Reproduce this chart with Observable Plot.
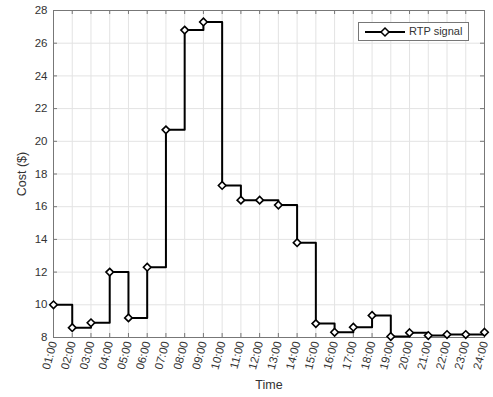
<!DOCTYPE html>
<html>
<head>
<meta charset="utf-8">
<script src="https://cdn.jsdelivr.net/npm/d3@7"></script>
<script src="https://cdn.jsdelivr.net/npm/@observablehq/plot@0.6"></script>
<style>
  html, body { margin: 0; padding: 0; background: #fff; }
  #wrap { position: relative; width: 493px; height: 397px; font-family: "Liberation Sans", Arial, sans-serif; }
  #legend { position: absolute; left: 358px; top: 22px; width: 111px; height: 19px; border: 1px solid #777; background: #fff; box-sizing: border-box; font-size: 11px; color: #333; }
  #legend svg { position: absolute; left: 4px; top: 2px; }
  #legend span { position: absolute; left: 50px; top: 2px; }
</style>
</head>
<body>
<div id="wrap"></div>
<script>
const hours = [1,2,3,4,5,6,7,8,9,10,11,12,13,14,15,16,17,18,19,20,21,22,23,24];
const timeLabels = ["01:00","02:00","03:00","04:00","05:00","06:00","07:00","08:00","09:00","10:00","11:00","12:00",
  "13:00","14:00","15:00","16:00","17:00","18:00","19:00","20:00","21:00","22:00","23:00","24:00"];
const cost = [10.0, 8.6, 8.9, 12.0, 9.2, 12.3, 20.7, 26.8, 27.3, 17.3, 16.4, 16.4,
  16.1, 13.8, 8.85, 8.32, 8.63, 9.35, 8.06, 8.29, 8.12, 8.18, 8.18, 8.32];
const yTicks = [8,10,12,14,16,18,20,22,24,26,28];
const seriesName = "RTP signal";

const data = hours.map((h, i) => ({hour: h, cost: cost[i]}));
const W = 493, H = 397, mL = 53, mR = 9, mT = 10, mB = 60;
const pw = W - mL - mR, ph = H - mT - mB;

const chart = Plot.plot({
  width: W, height: H,
  marginLeft: mL, marginRight: mR, marginTop: mT, marginBottom: mB,
  style: {fontFamily: "'Liberation Sans', Arial, sans-serif", fontSize: "11px", color: "#333", background: "#fff"},
  x: {type: "linear", domain: [1, 24]},
  y: {domain: [8, 28]},
  marks: [
    Plot.gridX(hours, {stroke: "#e3e3e3", strokeOpacity: 1}),
    Plot.gridY(yTicks, {stroke: "#e3e3e3", strokeOpacity: 1}),
    Plot.ruleY(yTicks, {stroke: "#777", insetRight: pw - 4}),
    Plot.ruleY(yTicks, {stroke: "#777", insetLeft: pw - 4}),
    Plot.ruleX(hours, {stroke: "#777", insetTop: ph - 4}),
    Plot.ruleX(hours, {stroke: "#777", insetBottom: ph - 4}),
    Plot.frame({stroke: "#777"}),
    Plot.axisY({ticks: yTicks, tickSize: 0, tickPadding: 6, fontSize: 11.5, label: null}),
    Plot.axisY({ticks: [], tickSize: 0, label: "Cost ($)", labelAnchor: "center", labelArrow: "none", labelOffset: 36, fontSize: 12.5}),
    Plot.axisX({ticks: hours, tickFormat: (d) => timeLabels[hours.indexOf(d)], tickRotate: -75, tickSize: 0, tickPadding: 4, fontSize: 11.5, label: null}),
    Plot.axisX({ticks: [], tickSize: 0, label: "Time", labelAnchor: "center", labelArrow: "none", labelOffset: 51, fontSize: 12.5}),
    Plot.line(data, {x: "hour", y: "cost", curve: "step-after", stroke: "#000", strokeWidth: 2}),
    Plot.dot(data, {x: "hour", y: "cost", symbol: "diamond2", r: 3.4, fill: "#fff", stroke: "#000", strokeWidth: 1.6})
  ]
});
const wrap = document.getElementById("wrap");
wrap.appendChild(chart);
const leg = document.createElement("div");
leg.id = "legend";
leg.innerHTML = `<svg width="44" height="14"><line x1="2" y1="7" x2="42" y2="7" stroke="#000" stroke-width="1.8"/>
<path d="M22,3 L26,7 L22,11 L18,7 Z" fill="#fff" stroke="#000" stroke-width="1.5"/></svg><span></span>`;
leg.querySelector("span").textContent = seriesName;
wrap.appendChild(leg);
</script>
</body>
</html>
